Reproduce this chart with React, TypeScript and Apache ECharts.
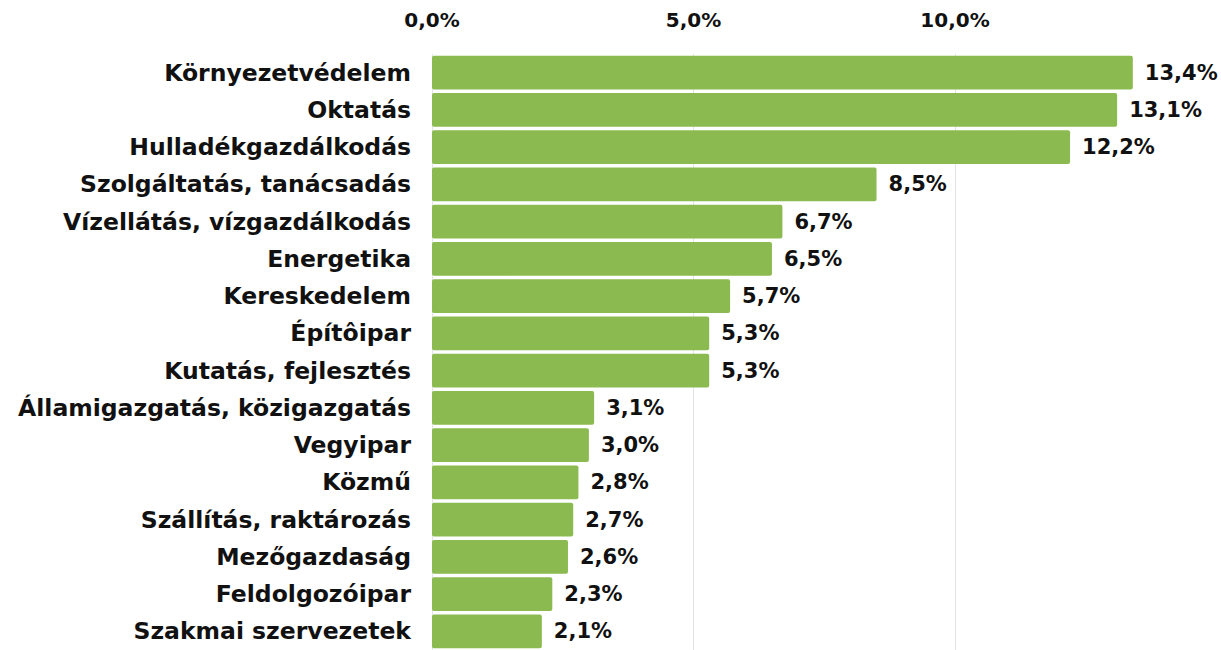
import React, { useEffect, useRef } from "react";
import * as echarts from "echarts";

const categories = [
  "Környezetvédelem",
  "Oktatás",
  "Hulladékgazdálkodás",
  "Szolgáltatás, tanácsadás",
  "Vízellátás, vízgazdálkodás",
  "Energetika",
  "Kereskedelem",
  "Építôipar",
  "Kutatás, fejlesztés",
  "Államigazgatás, közigazgatás",
  "Vegyipar",
  "Közmű",
  "Szállítás, raktározás",
  "Mezőgazdaság",
  "Feldolgozóipar",
  "Szakmai szervezetek",
];
const values = [13.4, 13.1, 12.2, 8.5, 6.7, 6.5, 5.7, 5.3, 5.3, 3.1, 3.0, 2.8, 2.7, 2.6, 2.3, 2.1];
const tickValues = [0, 5, 10];

const fmt = (v: number) => v.toFixed(1).replace(".", ",") + "%";
const FONT = "DejaVu Sans";

export default function App() {
  const ref = useRef<HTMLDivElement>(null);
  useEffect(() => {
    if (!ref.current) return;
    const chart = echarts.init(ref.current, undefined, { renderer: "svg" });
    chart.setOption({
      animation: false,
      backgroundColor: "#ffffff",
      grid: { left: 432, right: 4.5, top: 54, height: 597, containLabel: false },
      xAxis: {
        type: "value",
        position: "top",
        min: 0,
        max: 15,
        interval: 5,
        axisLine: { show: false },
        axisTick: { show: false },
        splitLine: { show: true, showMaxLine: false, lineStyle: { color: "#e3e3e3", width: 1 } },
        axisLabel: {
          margin: 24,
          fontFamily: FONT,
          fontWeight: "bold",
          fontSize: 20,
          color: "#111",
          formatter: (v: number) => (tickValues.includes(v) ? fmt(v) : ""),
        },
      },
      yAxis: {
        type: "category",
        inverse: true,
        data: categories,
        axisLine: { show: false },
        axisTick: { show: false },
        axisLabel: {
          margin: 21,
          fontFamily: FONT,
          fontWeight: "bold",
          fontSize: 23.5,
          color: "#111",
        },
      },
      series: [
        {
          type: "bar",
          data: values,
          barCategoryGap: "9%",
          itemStyle: { color: "#8bbb50", borderRadius: 2 },
          label: {
            show: true,
            position: "right",
            distance: 12,
            fontFamily: FONT,
            fontWeight: "bold",
            fontSize: 21,
            color: "#111",
            formatter: (p: any) => fmt(p.value),
          },
        },
      ],
    });
    return () => chart.dispose();
  }, []);
  return (
    <div
      ref={ref}
      style={{ position: "fixed", left: 0, top: 0, width: 1221, height: 650 }}
    />
  );
}
